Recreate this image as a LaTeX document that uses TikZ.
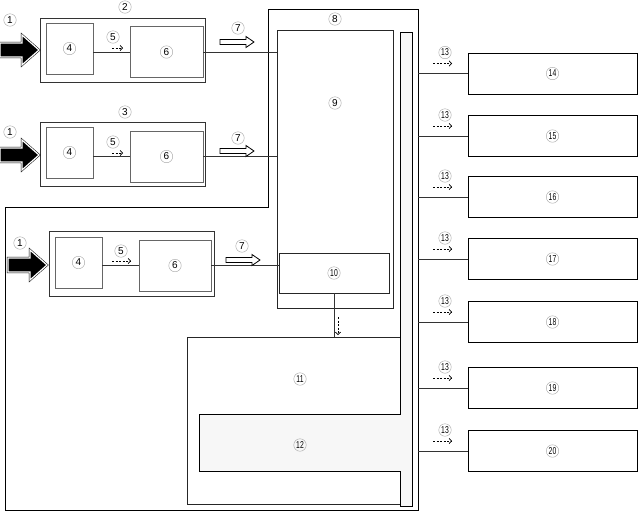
\documentclass[tikz,border=0pt]{standalone}
\usepackage{fontspec}
\setmainfont{Liberation Sans}
\usepackage{graphicx}
\usetikzlibrary{arrows.meta,calc}

\newcommand{\nar}[1]{\scalebox{0.68}[1]{#1}}

\begin{document}
\begin{tikzpicture}[x=1pt,y=-1pt,
    num/.style={circle,draw=gray!70,line width=0.4pt,inner sep=0pt,minimum size=12.5pt,font=\fontsize{10}{10}\selectfont},
    grp/.style={draw=black!80,line width=1pt,minimum width=165pt,minimum height=64pt,inner sep=0pt},
    sub/.style={draw=black!60,line width=0.9pt,inner sep=0pt,minimum height=51pt},
    outbox/.style={draw=black,line width=1pt,minimum width=169pt,minimum height=41pt,inner sep=0pt},
    inbox/.style={draw=black!85,line width=0.9pt,inner sep=0pt},
    wire/.style={black!80,line width=0.8pt},
    dashar/.style={dash pattern=on 2pt off 1.5pt,line width=0.7pt,-{Straight Barb[length=2.5pt,width=5.5pt]}},
    fatarrow/.style={fill=black,draw=black,double=white,double distance=1.2pt,line width=0.5pt},
    hollow/.style={draw=black,fill=white,line width=0.8pt}]
    \useasboundingbox (0,0) rectangle (638,512);
    \draw[line width=0.9pt] (268,9) -- (418,9) -- (418,510) -- (5,510) -- (5,207) -- (268,207) -- cycle;
    \coordinate (trunk) at (418,9);
    \node[num] at (335,19) {8};
    \node[inbox,minimum width=116pt,minimum height=278pt] (n9) at (335,169) {};
    \node[num] at (335,103) {9};
    \node[inbox,minimum width=110pt,minimum height=40pt] (n10) at (334,273) {};
    \node[num] at (n10) {\nar{10}};
    \node[inbox,minimum width=213pt,minimum height=167pt] (n11) at (293.5,420.5) {};
    \draw[fill=gray!6,line width=0.8pt] (199,414) -- (400,414) -- (400,32) -- (412,32) -- (412,506) -- (400,506) -- (400,471) -- (199,471) -- cycle;
    \node[num] at (300,379) {\nar{11}};
    \node[num] at (300,445) {\nar{12}};
    \draw[wire] (n10.south) -- (n10.south |- n11.north);
    \draw[dashar] (338,317) -- (338,335);
    \node[grp] (ga) at (122.5,50) {};
    \node[sub,minimum width=47pt] (a4) at (69.5,48.5) {};
    \node[sub,minimum width=73pt] (a6) at (166.5,52) {};
    \node[num] at (125,7) {2};
    \node[grp] (gb) at (122.5,154) {};
    \node[sub,minimum width=47pt] (b4) at (69.5,152.5) {};
    \node[sub,minimum width=73pt] (b6) at (166.5,156.5) {};
    \node[num] at (125,112) {3};
    \node[grp,minimum height=65pt] (gc) at (131.5,263.5) {};
    \node[sub,minimum width=47pt] (c4) at (78.5,262.5) {};
    \node[sub,minimum width=72pt] (c6) at (175,265.5) {};
    \foreach \g in {a,b,c} {
        \node[num] at (\g4) {4};
        \node[num] at (\g6) {6};
        \draw[wire] (\g6.west -| \g4.east) -- (\g6.west);
    }
    \draw[wire] (a6.east) -- (a6.east -| n9.west);
    \draw[wire] (b6.east) -- (b6.east -| n9.west);
    \draw[wire] (c6.east) -- (c6.east -| n10.west);
    \draw[dashar] (112,48) -- (123,48);
    \draw[dashar] (112,153) -- (123,153);
    \draw[dashar] (112,261) -- (131,261);
    \node[num] at (113,37) {5};
    \node[num] at (113,142) {5};
    \node[num] at (121,251) {5};
    \foreach \x/\c in {0/50,0/155,8/265}
        \draw[fatarrow] (\x,\c-7) -- (\x+22,\c-7) -- (\x+22,\c-15) -- (\x+39,\c) -- (\x+22,\c+15) -- (\x+22,\c+7) -- (\x,\c+7) -- cycle;
    \node[num] at (10,20) {1};
    \node[num] at (10,132) {1};
    \node[num] at (20,243) {1};
    \foreach \x/\c in {220/42,220/151,226/260}
        \draw[hollow] (\x,\c-2.5) -- (\x+26,\c-2.5) -- (\x+26,\c-5.5) -- (\x+34,\c) -- (\x+26,\c+5.5) -- (\x+26,\c+2.5) -- (\x,\c+2.5) -- cycle;
    \node[num] at (238,28) {7};
    \node[num] at (238,138) {7};
    \node[num] at (242,246) {7};
    \foreach \n/\y in {14/73.5,15/136,16/197,17/259,18/322,19/388,20/451} {
        \node[outbox] (b\n) at (552.5,\y) {};
        \node[num] at (b\n) {\nar{\n}};
        \draw[wire] (b\n.west) -- (b\n.west -| trunk);
        \draw[dashar] ($(b\n.west -| trunk)+(15,-10)$) -- ++(19,0);
        \node[num] at ($(b\n.west -| trunk)+(27,-21)$) {\nar{13}};
    }
\end{tikzpicture}
\end{document}
